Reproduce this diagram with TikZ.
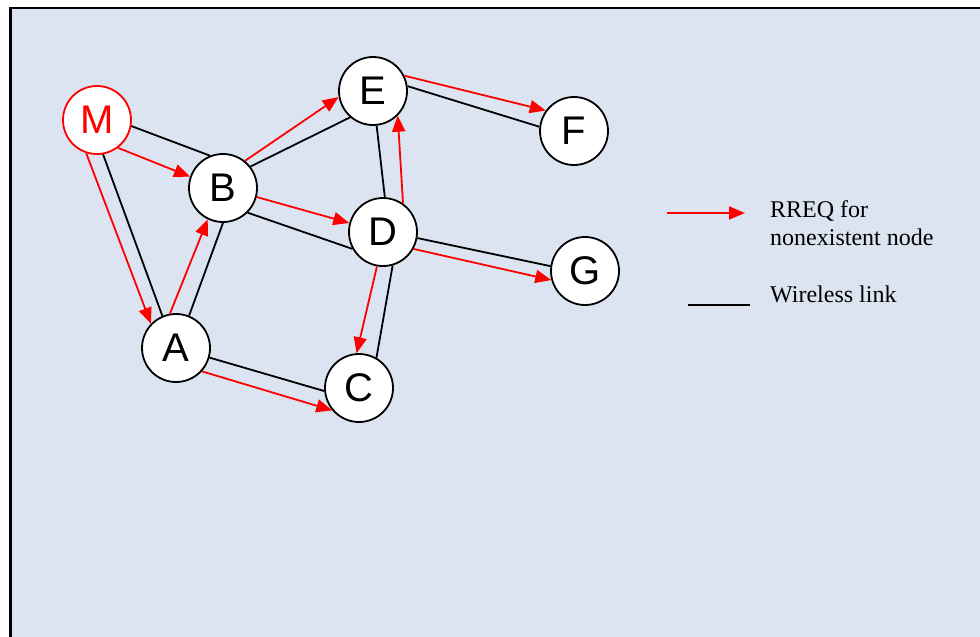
\documentclass[tikz,border=0pt]{standalone}
\usepackage{fontspec}
\setmainfont{Liberation Serif}
\newfontfamily\nodefont{Liberation Sans}
\usetikzlibrary{arrows.meta}

\definecolor{panelblue}{RGB}{219,228,240}

\begin{document}
\begin{tikzpicture}
[every node/.style={inner sep=0pt},
 host/.style={circle, minimum size=68pt, fill=white, line width=1.8pt, draw=black, font=\nodefont\fontsize{40}{40}\selectfont},
 rogue/.style={host, draw=red, text=red},
 link/.style={line width=1.8pt, color=black},
 rreq/.style={line width=1.8pt, color=red, -{Triangle[length=16pt, width=13pt]}}]
\useasboundingbox (0pt, 0pt) rectangle (980pt, -637pt);
\clip (0pt, 0pt) rectangle (980pt, -637pt);
\draw [line width=2.6pt, fill=panelblue] (10.7pt, -8pt) rectangle (1000pt, -660pt);

% nodes
\node (M) [rogue] at (97pt, -120pt) {M};
\node (B) [host] at (223pt, -188pt) {B};
\node (A) [host] at (176pt, -348pt) {A};
\node (C) [host] at (359pt, -388pt) {C};
\node (E) [host] at (373pt, -91pt) {E};
\node (F) [host] at (574pt, -131pt) {F};
\node (D) [host] at (383pt, -232pt) {D};
\node (G) [host] at (585pt, -271pt) {G};

% wireless links
\draw [link] (M.-10) -- (B.112);
\draw [link] (M.-80) -- (A.113);
\draw [link] (A.68) -- (B.-90);
\draw [link] (B.38) -- (E.-131);
\draw [link] (B.-45) -- (D.-151);
\draw [link] (A.-16) -- (C.-175);
\draw [link] (E.8) -- (F.173);
\draw [link] (D.87) -- (E.-84);
\draw [link] (D.-10) -- (G.172);
\draw [link] (D.-74) -- (C.60);

% RREQ flooding
\draw [rreq] (M.-53) -- (B.161);
\draw [rreq] (M.-108) -- (A.136);
\draw [rreq] (A.100) -- (B.-116);
\draw [rreq] (B.51) -- (E.-170);
\draw [rreq] (B.-15) -- (D.165);
\draw [rreq] (A.-42) -- (C.-140);
\draw [rreq] (E.26) -- (F.144);
\draw [rreq] (D.55) -- (E.-45);
\draw [rreq] (D.-29) -- (G.-165);
\draw [rreq] (D.-100) -- (C.94);

% legend
\coordinate (rreq start) at (667pt, -213pt);
\coordinate (rreq end) at (745pt, -213pt);
\coordinate (link start) at (688pt, -305pt);
\coordinate (link end) at (750pt, -305pt);
\draw [rreq] (rreq start) -- (rreq end);
\draw [link] (link start) -- (link end);
\node (rreq label) [anchor=base west, align=left, font=\fontsize{24}{28}\selectfont] at (770pt, -245pt) {RREQ for\\nonexistent node};
\node (link label) [anchor=base west, font=\fontsize{24}{28}\selectfont] at (770pt, -302pt) {Wireless link};
\end{tikzpicture}
\end{document}
